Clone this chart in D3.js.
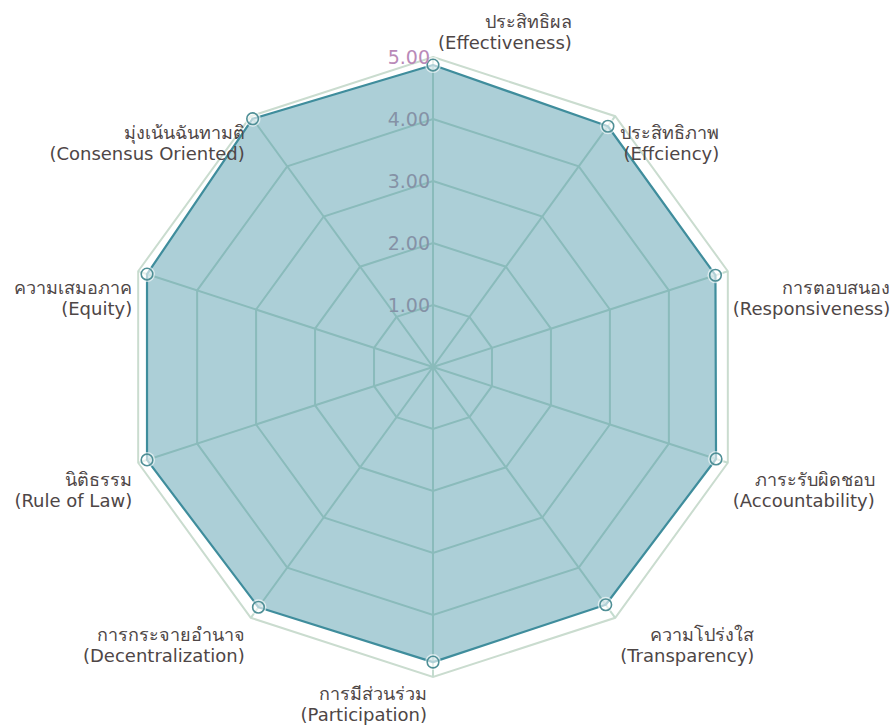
<!DOCTYPE html>
<html>
<head>
<meta charset="utf-8">
<script src="https://cdn.jsdelivr.net/npm/d3@7/dist/d3.min.js"></script>
<style>
  body { margin: 0; background: #fff; }
  svg { display: block; }
  text { font-family: "DejaVu Sans", Verdana, "Noto Sans", sans-serif; }
</style>
</head>
<body>
<div id="chart"></div>
<script>
// categories: thai name + english name
const thaiNames = ["ประสิทธิผล", "ประสิทธิภาพ", "การตอบสนอง", "ภาระรับผิดชอบ", "ความโปร่งใส",
                   "การมีส่วนร่วม", "การกระจายอำนาจ", "นิติธรรม", "ความเสมอภาค", "มุ่งเน้นฉันทามติ"];
const engNames = ["(Effectiveness)", "(Effciency)", "(Responsiveness)", "(Accountability)", "(Transparency)",
                  "(Participation)", "(Decentralization)", "(Rule of Law)", "(Equity)", "(Consensus Oriented)"];
const scores = [4.87, 4.80, 4.79, 4.80, 4.74, 4.76, 4.79, 4.85, 4.85, 4.95];
const tickValues = [1, 2, 3, 4, 5];

const width = 895, height = 725;
const cx = 433, cy = 367, R = 310;

const svg = d3.select("#chart").append("svg")
    .attr("width", width)
    .attr("height", height);

const r = d3.scaleLinear().domain([0, 5]).range([0, R]);
const angle = d3.scaleLinear().domain([0, thaiNames.length]).range([0, 2 * Math.PI]);

const g = svg.append("g").attr("transform", `translate(${cx},${cy})`);

const pt = (i, v) => [Math.sin(angle(i)) * r(v), -Math.cos(angle(i)) * r(v)];

// grid rings
const ring = d3.line();
tickValues.forEach(t => {
    const pts = thaiNames.map((d, i) => pt(i, t));
    g.append("path")
        .attr("d", ring(pts) + "Z")
        .attr("fill", "none")
        .attr("stroke", t === 5 ? "#cadccf" : "#c4dccf")
        .attr("stroke-width", 2);
});

// spokes
thaiNames.forEach((d, i) => {
    const [x, y] = pt(i, 5);
    g.append("line")
        .attr("x1", 0).attr("y1", 0)
        .attr("x2", x).attr("y2", y)
        .attr("stroke", "#c4dccf")
        .attr("stroke-width", 2);
});

// area
const areaPts = scores.map((v, i) => pt(i, v));
g.append("path")
    .attr("d", ring(areaPts) + "Z")
    .attr("fill", "rgb(58,140,160)")
    .attr("fill-opacity", 0.42)
    .attr("stroke", "#3f8d9c")
    .attr("stroke-width", 2.2)
    .attr("stroke-linejoin", "round");

// markers
areaPts.forEach(p => {
    g.append("circle")
        .attr("cx", p[0]).attr("cy", p[1]).attr("r", 8)
        .attr("fill", "#fff").attr("fill-opacity", 0.6);
    g.append("circle")
        .attr("cx", p[0]).attr("cy", p[1]).attr("r", 5.8)
        .attr("fill", "none")
        .attr("stroke", "#4f8f96")
        .attr("stroke-width", 1.6);
});

// tick labels on the top spoke
tickValues.forEach(t => {
    g.append("text")
        .attr("x", -3)
        .attr("y", -r(t) + 7)
        .attr("text-anchor", "end")
        .attr("font-size", 19)
        .attr("fill", t === 5 ? "#b98ab8" : "#8592a6")
        .text(d3.format(".2f")(t));
});

// axis labels
thaiNames.forEach((d, i) => {
    const [x, y] = pt(i, 5);
    const a = angle(i);
    const rightSide = a < Math.PI - 0.01;
    const lbl = g.append("g");
    const t1 = lbl.append("text").attr("font-size", 18).attr("fill", "#4e4646").text(d);
    const t2 = lbl.append("text").attr("font-size", 18).attr("fill", "#4e4646").text(engNames[i]);
    const w = Math.max(t1.node().getComputedTextLength(), t2.node().getComputedTextLength());
    const right = rightSide ? x + 5 + w : x - 6;
    const y1 = i === 0 ? y - 29 : y + 23;
    t1.attr("x", right).attr("y", y1).attr("text-anchor", "end");
    t2.attr("x", right).attr("y", y1 + 21).attr("text-anchor", "end");
});
</script>
</body>
</html>
